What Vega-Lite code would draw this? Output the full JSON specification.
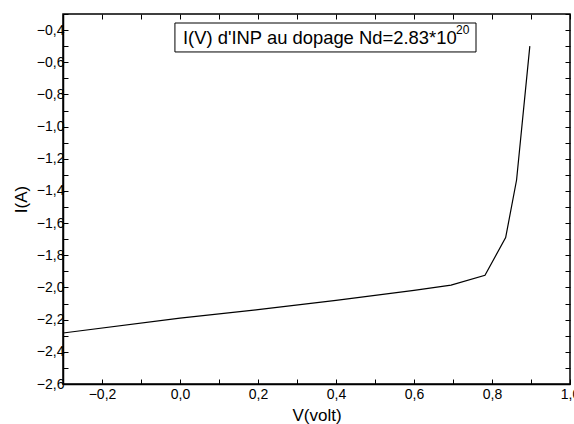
{
  "$schema": "https://vega.github.io/schema/vega-lite/v6.json",
  "width": 507,
  "height": 370,
  "autosize": {"type": "none"},
  "padding": {"left": 63, "top": 14, "right": 4, "bottom": 40},
  "background": "white",
  "config": {
    "view": {"stroke": "black", "strokeWidth": 1.5},
    "font": "Liberation Sans",
    "axis": {
      "grid": false,
      "domainColor": "black",
      "domainWidth": 1.5,
      "tickColor": "black",
      "tickWidth": 1,
      "tickSize": -5,
      "labelColor": "black",
      "labelFont": "Liberation Sans",
      "labelFontSize": 14,
      "titleFont": "Liberation Sans",
      "titleFontSize": 17,
      "titleFontWeight": "normal",
      "titleColor": "black",
      "labelFlush": false,
      "labelOverlap": false
    }
  },
  "resolve": {"axis": {"x": "independent", "y": "independent"}},
  "datasets": {
    "curve": [
      {"V": -0.3, "I": -2.283},
      {"V": 0.0, "I": -2.19},
      {"V": 0.2, "I": -2.138},
      {"V": 0.4, "I": -2.08},
      {"V": 0.6, "I": -2.018},
      {"V": 0.695, "I": -1.985},
      {"V": 0.782, "I": -1.924},
      {"V": 0.835, "I": -1.69},
      {"V": 0.863, "I": -1.332},
      {"V": 0.897, "I": -0.5}
    ],
    "box": [{"x1": -0.013, "x2": 0.759, "y1": -0.356, "y2": -0.536}],
    "labels": [
      {"tx": 0.0077, "ty": -0.449, "label": "I(V) d'INP au dopage Nd=2.83*10", "sz": 18.4},
      {"tx": 0.708, "ty": -0.40, "label": "20", "sz": 12}
    ]
  },
  "layer": [
    {
      "data": {"name": "curve"},
      "mark": {"type": "line", "color": "black", "strokeWidth": 1.2, "clip": true},
      "encoding": {
        "x": {"field": "V", "type": "quantitative",
          "scale": {"domain": [-0.3, 1.0], "nice": false, "zero": false},
          "axis": {"orient": "bottom", "title": "V(volt)",
            "values": [-0.2, -0.1, 0, 0.1, 0.2, 0.3, 0.4, 0.5, 0.6, 0.7, 0.8, 0.9, 1.0],
            "labelExpr": "abs(round(datum.value*10)) % 2 == 0 ? replace(format(datum.value, '.1f'), '.', ',') : ''",
            "labelPadding": 8, "titlePadding": 6}},
        "y": {"field": "I", "type": "quantitative",
          "scale": {"domain": [-2.6, -0.3], "nice": false, "zero": false},
          "axis": {"orient": "left", "title": "I(A)",
            "values": [-2.6, -2.5, -2.4, -2.3, -2.2, -2.1, -2.0, -1.9, -1.8, -1.7, -1.6, -1.5, -1.4, -1.3, -1.2, -1.1, -1.0, -0.9, -0.8, -0.7, -0.6, -0.5, -0.4, -0.3],
            "labelExpr": "abs(round(datum.value*10)) % 2 == 0 ? replace(format(datum.value, '.1f'), '.', ',') : ''",
            "labelPadding": 4, "titlePadding": 6}}
      }
    },
    {
      "data": {"name": "curve"},
      "mark": {"type": "point", "opacity": 0},
      "encoding": {
        "x": {"field": "V", "type": "quantitative",
          "axis": {"orient": "top", "title": null, "labels": false, "domain": false, "ticks": true, "tickSize": -5, "tickWidth": 1,
            "values": [-0.2, -0.1, 0, 0.1, 0.2, 0.3, 0.4, 0.5, 0.6, 0.7, 0.8, 0.9, 1.0]}},
        "y": {"field": "I", "type": "quantitative",
          "axis": {"orient": "right", "title": null, "labels": false, "domain": false, "ticks": true, "tickSize": -5, "tickWidth": 1,
            "values": [-2.6, -2.5, -2.4, -2.3, -2.2, -2.1, -2.0, -1.9, -1.8, -1.7, -1.6, -1.5, -1.4, -1.3, -1.2, -1.1, -1.0, -0.9, -0.8, -0.7, -0.6, -0.5, -0.4, -0.3]}}
      }
    },
    {
      "data": {"name": "box"},
      "mark": {"type": "rect", "fill": "white", "stroke": "black", "strokeWidth": 1},
      "encoding": {
        "x": {"field": "x1", "type": "quantitative", "axis": null},
        "x2": {"field": "x2"},
        "y": {"field": "y1", "type": "quantitative", "axis": null},
        "y2": {"field": "y2"}
      }
    },
    {
      "data": {"name": "labels"},
      "mark": {"type": "text", "align": "left", "baseline": "middle", "fill": "black", "font": "Liberation Sans"},
      "encoding": {
        "x": {"field": "tx", "type": "quantitative", "axis": null},
        "y": {"field": "ty", "type": "quantitative", "axis": null},
        "text": {"field": "label"},
        "size": {"field": "sz", "type": "quantitative", "scale": null, "legend": null}
      }
    }
  ]
}
